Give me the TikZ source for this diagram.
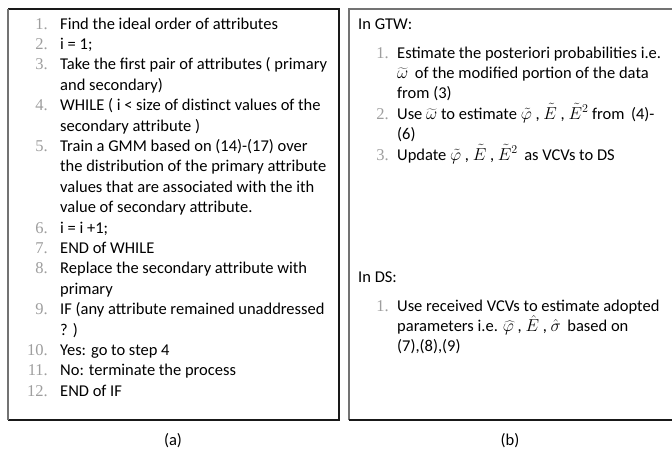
\documentclass[tikz,border=0pt]{standalone}
\usepackage{fontspec}
\setmainfont{Carlito}
\newfontfamily\numfont{Liberation Serif}
\begin{document}
\begin{tikzpicture}[x=1pt,y=-1pt,
  txt/.style={anchor=base west, inner sep=0pt, font=\fontsize{16.5}{20.4}\selectfont},
  num/.style={anchor=base east, inner sep=0pt, text=black!38, font=\numfont\fontsize{16.5}{20.4}\selectfont},
  captext/.style={anchor=center, inner sep=0pt, font=\fontsize{16.5}{20.4}\selectfont},
  darkedge/.style={line width=1.4pt, draw=black!90},
  lightedge/.style={line width=1.4pt, draw=black!55}]
\useasboundingbox (0,0) rectangle (672,450);
\fill[white] (0,0) rectangle (672,450);

% panel (a) frame
\draw[darkedge] (8,9) -- (339,9) -- (339,420) -- (8,420);
\draw[lightedge] (8,9) -- (8,420);
% panel (b) frame (right side runs past the page edge)
\draw[lightedge] (349,420) -- (349,9) -- (673,9);
\draw[darkedge] (349,420) -- (673,420);

% panel (a): numbered steps
\node[num] (na1)  at (48,29.0)  {1.};
\node[txt] (ta1)  at (60,29.0)  {Find the ideal order of attributes};
\node[num] (na2)  at (48,49.4)  {2.};
\node[txt] (ta2)  at (60,49.4)  {i = 1;};
\node[num] (na3)  at (48,69.8)  {3.};
\node[txt] (ta3)  at (60,69.8)  {Take the first pair of attributes ( primary};
\node[txt] (ta3b) at (60,90.2)  {and secondary)};
\node[num] (na4)  at (48,110.6) {4.};
\node[txt] (ta4)  at (60,110.6) {WHILE ( i < size of distinct values of the};
\node[txt] (ta4b) at (60,131.0) {secondary attribute )};
\node[num] (na5)  at (48,151.4) {5.};
\node[txt] (ta5)  at (60,151.4) {Train a GMM based on (14)-(17) over};
\node[txt] (ta5b) at (60,171.8) {the distribution of the primary attribute};
\node[txt] (ta5c) at (60,192.2) {values that are associated with the ith};
\node[txt] (ta5d) at (60,212.6) {value of secondary attribute.};
\node[num] (na6)  at (48,233.0) {6.};
\node[txt] (ta6)  at (60,233.0) {i = i +1;};
\node[num] (na7)  at (48,253.4) {7.};
\node[txt] (ta7)  at (60,253.4) {END of WHILE};
\node[num] (na8)  at (48,273.8) {8.};
\node[txt] (ta8)  at (60,273.8) {Replace the secondary attribute with};
\node[txt] (ta8b) at (60,294.2) {primary};
\node[num] (na9)  at (48,314.6) {9.};
\node[txt] (ta9)  at (60,314.6) {IF (any attribute remained unaddressed};
\node[txt] (ta9b) at (60,335.0) {? )};
\node[num] (na10) at (48,355.4) {10.};
\node[txt] (ta10) at (60,355.4) {Yes: go to step 4};
\node[num] (na11) at (48,375.8) {11.};
\node[txt] (ta11) at (60,375.8) {No: terminate the process};
\node[num] (na12) at (48,396.2) {12.};
\node[txt] (ta12) at (60,396.2) {END of IF};

% panel (b): GTW part
\node[txt] (gtw) at (358,29) {In GTW:};
\node[num] (nb1)  at (389,58.0)  {1.};
\node[txt] (tb1)  at (397,58.0)  {Estimate the posteriori probabilities i.e.};
\node[txt] (tb1b) at (397,78.4)  {$\widetilde{\omega}$\, of the modified portion of the data};
\node[txt] (tb1c) at (397,98.8)  {from (3)};
\node[num] (nb2)  at (389,119.2) {2.};
\node[txt] (tb2)  at (397,119.2) {Use $\widetilde{\omega}$ to estimate $\tilde{\varphi}$ , $\tilde{E}$ , $\tilde{E}^2$ from\, (4)-};
\node[txt] (tb2b) at (397,139.6) {(6)};
\node[num] (nb3)  at (389,160.0) {3.};
\node[txt] (tb3)  at (397,160.0) {Update $\tilde{\varphi}$ , $\tilde{E}$ , $\tilde{E}^2$\, as VCVs to DS};

% panel (b): DS part
\node[txt] (ds) at (358,282) {In DS:};
\node[num] (nc1)  at (389,311.0) {1.};
\node[txt] (tc1)  at (397,311.0) {Use received VCVs to estimate adopted};
\node[txt] (tc1b) at (397,331.4) {parameters i.e. $\widehat{\varphi}$ , $\hat{E}$ , $\hat{\sigma}$\, based on};
\node[txt] (tc1c) at (397,351.8) {(7),(8),(9)};

% captions
\node[captext] (capa) at (173,441) {(a)};
\node[captext] (capb) at (510,441) {(b)};
\end{tikzpicture}
\end{document}
